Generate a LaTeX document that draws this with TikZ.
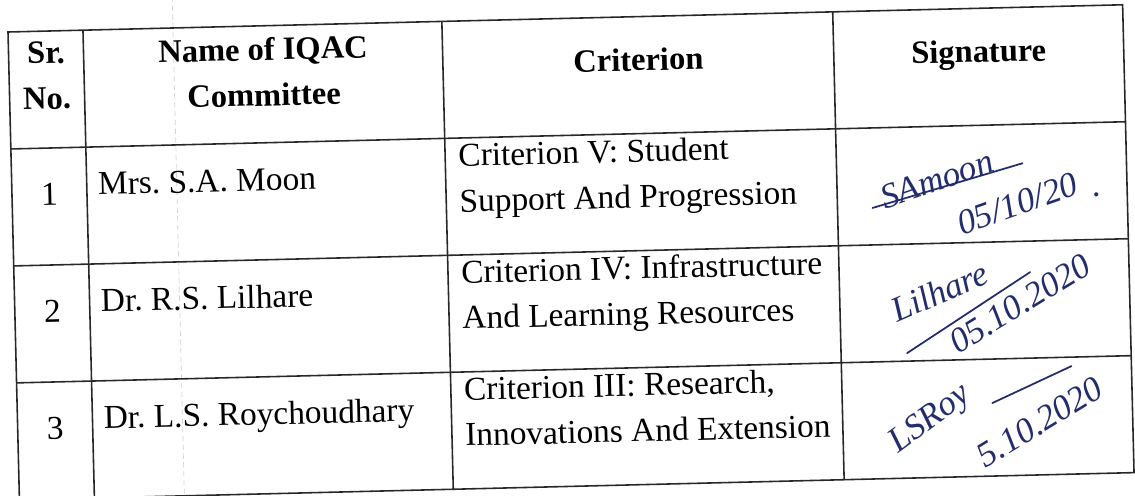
\documentclass[tikz,border=0pt]{standalone}
\usepackage{fontspec}
\setmainfont{Liberation Serif}
\frenchspacing
\definecolor{ink}{RGB}{35,45,110}
\definecolor{rulegray}{RGB}{40,40,40}
\begin{document}
\begin{tikzpicture}[x=0.02cm,y=-0.02cm]
\tikzstyle{every node}+=[inner sep=0pt]
\tikzstyle{rule}=[draw=rulegray, line width=0.9pt]
\tikzstyle{cell}=[font=\fontsize{19}{26}\selectfont, align=left]
\tikzstyle{head}=[font=\fontsize{18.5}{26}\bfseries\selectfont, align=center]
\tikzstyle{sign}=[font=\fontsize{20}{24}\itshape\selectfont, text=ink]
\tikzstyle{stroke}=[draw=ink, line width=1pt, line cap=round]
\useasboundingbox (0,0) rectangle (1135,495);
\begin{scope}[shift={(8,32)}, rotate=1.4, transform shape]
% fold mark of the scan
\draw [gray!35, dash pattern=on 3pt off 2pt, line width=0.4pt] (165,-40) -- (165,480);
% table rules
\draw [rule] (0,0) rectangle (1115,468);
\foreach \v in {117,234,351}
  \draw [rule] (0,\v) -- (1115,\v);
\foreach \u in {75,434,825}
  \draw [rule] (\u,0) -- (\u,468);
% header (base = last line)
\node [head, anchor=base] (srno) at (37.5,78) {Sr.\\No.};
\node [head, anchor=base] (name) at (254.5,80) {Name of IQAC\\Committee};
\node [head, anchor=base] (crit) at (629.5,54) {Criterion};
\node [head, anchor=base] (sign) at (970,54) {Signature};
% rows
\foreach \num/\who/\what [count=\i from 0] in {
  1/{Mrs. S.A. Moon}/{Criterion V: Student\\Support And Progression},
  2/{Dr. R.S. Lilhare}/{Criterion IV: Infrastructure\\And Learning Resources},
  3/{Dr. L.S. Roychoudhary}/{Criterion III: Research,\\Innovations And Extension}}
{
  \node [cell, anchor=base] (no\num) at (37.5,{117*(\i+1)+57}) {\num};
  \node [cell, anchor=base west] (who\num) at (86,{117*(\i+1)+48}) {\who};
  \node [cell, anchor=base west] (what\num) at (447,{117*(\i+1)+74}) {\what};
}
% signatures
\node [sign, rotate=18] (sigA) at (925,170) {SAmoon};
\draw [stroke] (860,197) -- (1011,156);
\node [sign, rotate=18] (dateA) at (1005,196) {05/10/20};
\node [sign] (dotA) at (1085,189) {.};
\node [sign, rotate=22] (sigB) at (925,282) {Lilhare};
\draw [stroke] (891,343) -- (1016,265);
\node [sign, rotate=30] (dateB) at (1005,296) {05.10.2020};
\node [sign, rotate=35] (sigC) at (913,410) {LSRoy};
\draw [stroke] (975,395) -- (1055,360);
\node [sign, rotate=30] (dateC) at (1022,415) {5.10.2020};
\end{scope}
\end{tikzpicture}
\end{document}
